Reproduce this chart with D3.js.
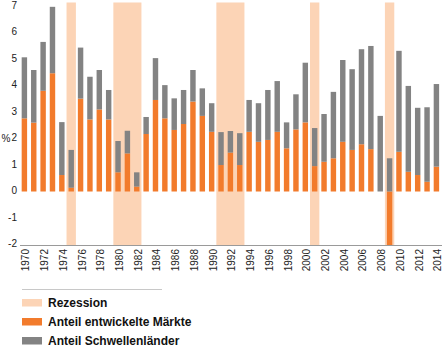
<!DOCTYPE html>
<html>
<head>
<meta charset="utf-8">
<script src="https://cdn.jsdelivr.net/npm/d3@7"></script>
<style>
  body { margin: 0; background: #fff; }
  svg text { font-family: "Liberation Sans", Arial, sans-serif; }
</style>
</head>
<body>
<div id="chart"></div>
<script>
// Anteil am Welt-BIP-Wachstum, 1970-2014
var years = d3.range(1970, 2015);

// entwickelte Maerkte (orange)
var developed = [2.71, 2.55, 3.73, 4.38, 0.61, 0.14, 3.44, 2.67, 3.04, 2.67,
                 0.71, 1.41, 0.18, 2.13, 3.39, 2.71, 2.28, 2.50, 3.33, 2.80,
                 2.21, 0.98, 1.44, 0.98, 2.21, 1.84, 1.91, 2.21, 1.60, 2.30,
                 2.56, 0.94, 1.10, 1.23, 1.84, 1.54, 1.75, 1.57, 0.00, -2.00,
                 1.47, 0.73, 0.61, 0.36, 0.92];

// Schwellenlaender (grau)
var emerging = [2.26, 1.95, 1.81, 2.46, 1.96, 1.40, 1.89, 1.58, 1.46, 1.09,
                1.16, 0.84, 0.53, 0.63, 1.55, 1.23, 1.17, 1.26, 1.17, 1.02,
                1.06, 1.22, 0.80, 1.18, 1.18, 1.43, 1.85, 1.88, 0.96, 1.30,
                2.21, 1.41, 1.77, 2.46, 3.03, 2.99, 3.52, 3.82, 2.80, 1.23,
                3.74, 3.18, 2.49, 2.76, 3.06];

var recessionYears = [1975, 1980, 1981, 1982, 1991, 1992, 1993, 2001, 2009];

var yTicks = [-2, -1, 0, 1, 2, 3, 4, 5, 6, 7];
var legendItems = ["Rezession", "Anteil entwickelte Märkte", "Anteil Schwellenländer"];

var COLOR_REC = "#fcd4b6",
    COLOR_DEV = "#f27b2c",
    COLOR_EM = "#838383";

var width = 442, height = 348;

var svg = d3.select("#chart").append("svg")
    .attr("width", width).attr("height", height);

var xScale = d3.scaleBand().domain(years)
    .range([19.8, 441]).paddingInner(0.42).paddingOuter(0.2);
var yScale = d3.scaleLinear().domain([-2, 7]).range([245.5, 2.5]);
// tick labels sit a little inside the plot edges
var yLabel = d3.scaleLinear().domain([-2, 7]).range([243.8, 5]);

var step = xScale.step(),
    bw = xScale.bandwidth();

// consecutive recession years -> one span each
var spans = [];
recessionYears.forEach(function(y) {
    var last = spans[spans.length - 1];
    if (last && last[1] == y - 1) last[1] = y;
    else spans.push([y, y]);
});

svg.append("g").attr("class", "recession")
  .selectAll("rect").data(spans).enter().append("rect")
    .attr("x", function(d) { return xScale(d[0]) - (step - bw) / 2; })
    .attr("width", function(d) { return (d[1] - d[0] + 1) * step; })
    .attr("y", yScale(7))
    .attr("height", yScale(-2) - yScale(7))
    .attr("fill", COLOR_REC);

var table = years.map(function(y, i) {
    return { year: y, dev: developed[i], em: emerging[i] };
});

var layers = d3.stack().keys(["dev", "em"])
    .offset(d3.stackOffsetDiverging)(table);

svg.append("g").attr("class", "bars")
  .selectAll("g").data(layers).enter().append("g")
    .attr("fill", function(d) { return d.key == "dev" ? COLOR_DEV : COLOR_EM; })
  .selectAll("rect").data(function(d) { return d; }).enter().append("rect")
    .attr("x", function(d) { return xScale(d.data.year); })
    .attr("width", bw)
    .attr("y", function(d) { return yScale(Math.max(d[0], d[1])); })
    .attr("height", function(d) { return Math.abs(yScale(d[0]) - yScale(d[1])); });

// x axis line at the bottom
svg.append("line")
    .attr("x1", 20).attr("x2", width)
    .attr("y1", yScale(-2)).attr("y2", yScale(-2))
    .attr("stroke", "#9a9a9a").attr("stroke-width", 1.2);

// y tick labels
svg.append("g").attr("class", "y labels")
  .selectAll("text").data(yTicks).enter().append("text")
    .attr("x", 17)
    .attr("y", function(d) { return yLabel(d); })
    .attr("dy", "0.35em")
    .attr("text-anchor", "end")
    .attr("font-size", 10)
    .attr("fill", "#222")
    .text(function(d) { return d; });

svg.append("text")
    .attr("x", 1.5).attr("y", yLabel(1.97))
    .attr("dy", "0.35em")
    .attr("font-size", 10).attr("fill", "#222")
    .text("%");

// x labels, every second year, rotated
svg.append("g").attr("class", "x labels")
  .selectAll("text").data(years.filter(function(y) { return y % 2 == 0; }))
  .enter().append("text")
    .attr("transform", function(d) {
        return "translate(" + (xScale(d) + bw / 2 + 1.5) + ",249) rotate(-90)";
    })
    .attr("dy", "0.35em")
    .attr("text-anchor", "end")
    .attr("font-size", 10)
    .attr("fill", "#222")
    .text(function(d) { return d; });

// legend
svg.append("line")
    .attr("x1", 22).attr("x2", 162).attr("y1", 289.5).attr("y2", 289.5)
    .attr("stroke", "#c8c8c8").attr("stroke-width", 1);

var legend = svg.append("g").attr("class", "legend")
  .selectAll("g").data(legendItems).enter().append("g")
    .attr("transform", function(d, i) { return "translate(22," + (299 + i * 19) + ")"; });

legend.append("rect")
    .attr("width", 20).attr("height", 7.5)
    .attr("fill", function(d, i) { return [COLOR_REC, COLOR_DEV, COLOR_EM][i]; });

legend.append("text")
    .attr("x", 26).attr("y", 8)
    .attr("font-size", 12).attr("font-weight", "bold")
    .attr("fill", "#111")
    .text(function(d) { return d; });
</script>
</body>
</html>
